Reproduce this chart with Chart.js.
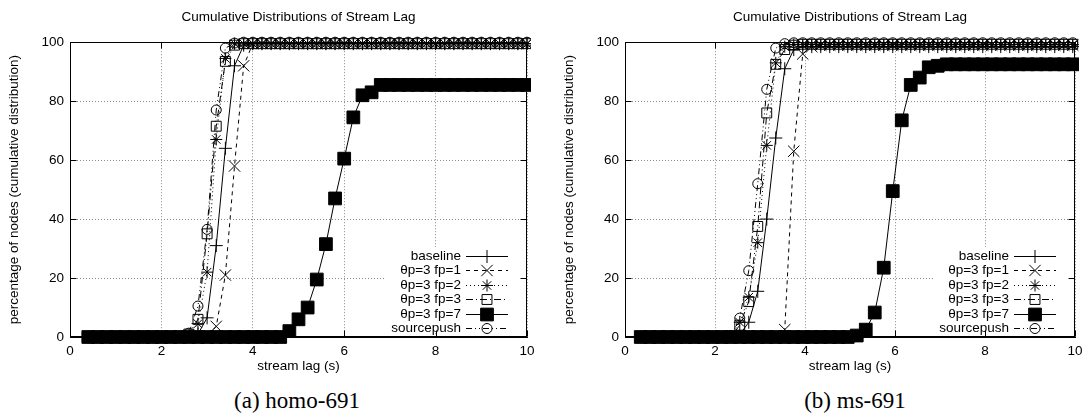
<!DOCTYPE html>
<html>
<head>
<meta charset="utf-8">
<script src="https://cdn.jsdelivr.net/npm/chart.js@4/dist/chart.umd.min.js"></script>
<style>
  body { margin: 0; background: #fff; }
  #wrap { position: relative; width: 1085px; height: 415px; overflow: hidden; }
  .panel { position: absolute; top: 0; height: 385px; }
  #leftPanel { left: 0; width: 545px; }
  #rightPanel { left: 555px; width: 530px; }
  .caption {
    position: absolute; top: 386px; width: 300px; line-height: 30px;
    font-family: 'Liberation Serif', 'Times New Roman', serif; font-size: 23px;
    color: #000; text-align: center;
  }
</style>
</head>
<body>
<div id="wrap">
  <div class="panel" id="leftPanel"><canvas id="homoChart"></canvas></div>
  <div class="panel" id="rightPanel"><canvas id="msChart"></canvas></div>
  <div class="caption" style="left:147px">(a) homo-691</div>
  <div class="caption" style="left:705px">(b) ms-691</div>
</div>
<script>
// ===== data =====
const seriesNames = ['baseline', 'θp=3 fp=1', 'θp=3 fp=2', 'θp=3 fp=3', 'θp=3 fp=7', 'sourcepush'];
const xTicks = [0, 2, 4, 6, 8, 10];
const yTicks = [0, 20, 40, 60, 80, 100];

// (a) homo-691
const lagHomo = [0.4,0.6,0.8,1.0,1.2,1.4,1.6,1.8,2.0,2.2,
  2.4,2.6,2.8,3.0,3.2,3.4,3.6,3.8,4.0,4.2,
  4.4,4.6,4.8,5.0,5.2,5.4,5.6,5.8,6.0,6.2,
  6.4,6.6,6.8,7.0,7.2,7.4,7.6,7.8,8.0,8.2,
  8.4,8.6,8.8,9.0,9.2,9.4,9.6,9.8,10.0];
const homoBaseline = [0,0,0,0,0,0,0,0,0,0,
  0,0,1,6.5,31,64,92,99,99.5,99.5,
  99.5,99.5,99.5,99.5,99.5,99.5,99.5,99.5,99.5,99.5,
  99.5,99.5,99.5,99.5,99.5,99.5,99.5,99.5,99.5,99.5,
  99.5,99.5,99.5,99.5,99.5,99.5,99.5,99.5,99.5];
const homoFp1 = [0,0,0,0,0,0,0,0,0,0,
  0,0,0,0.5,3.6,21,58,92,99.5,99.5,
  99.5,99.5,99.5,99.5,99.5,99.5,99.5,99.5,99.5,99.5,
  99.5,99.5,99.5,99.5,99.5,99.5,99.5,99.5,99.5,99.5,
  99.5,99.5,99.5,99.5,99.5,99.5,99.5,99.5,99.5];
const homoFp2 = [0,0,0,0,0,0,0,0,0,0,
  0,0.5,4.5,22,67,94.5,99.5,99.5,99.5,99.5,
  99.5,99.5,99.5,99.5,99.5,99.5,99.5,99.5,99.5,99.5,
  99.5,99.5,99.5,99.5,99.5,99.5,99.5,99.5,99.5,99.5,
  99.5,99.5,99.5,99.5,99.5,99.5,99.5,99.5,99.5];
const homoFp3 = [0,0,0,0,0,0,0,0,0,0,
  0,1,6,35,71.5,93.5,99,99.5,99.5,99.5,
  99.5,99.5,99.5,99.5,99.5,99.5,99.5,99.5,99.5,99.5,
  99.5,99.5,99.5,99.5,99.5,99.5,99.5,99.5,99.5,99.5,
  99.5,99.5,99.5,99.5,99.5,99.5,99.5,99.5,99.5];
const homoFp7 = [0,0,0,0,0,0,0,0,0,0,
  0,0,0,0,0,0,0,0,0,0,
  0,0,2,6,10,19.5,31.5,47,60.5,74.5,
  82,83,85.5,85.5,85.5,85.5,85.5,85.5,85.5,85.5,
  85.5,85.5,85.5,85.5,85.5,85.5,85.5,85.5,85.5];
const homoSource = [0,0,0,0,0,0,0,0,0,0,
  0,1.3,10.5,36.5,77,98,99.7,100,100,100,
  100,100,100,100,100,100,100,100,100,100,
  100,100,100,100,100,100,100,100,100,100,
  100,100,100,100,100,100,100,100,100];

// (b) ms-691
const lagMs = [0.35,0.55,0.75,0.95,1.15,1.35,1.55,1.75,1.95,2.15,
  2.35,2.55,2.75,2.95,3.15,3.35,3.55,3.75,3.95,4.15,
  4.35,4.55,4.75,4.95,5.15,5.35,5.55,5.75,5.95,6.15,
  6.35,6.55,6.75,6.95,7.15,7.35,7.55,7.75,7.95,8.15,
  8.35,8.55,8.75,8.95,9.15,9.35,9.55,9.75,9.95];
const msBaseline = [0,0,0,0,0,0,0,0,0,0,
  0,0.8,5,15.5,40,67.5,91,97.5,98.5,98.5,
  98.5,98.5,98.5,98.5,98.5,98.5,98.5,98.5,98.5,98.5,
  98.5,98.5,98.5,98.5,98.5,98.5,98.5,98.5,98.5,98.5,
  98.5,98.5,98.5,98.5,98.5,98.5,98.5,98.5,98.5];
const msFp1 = [0,0,0,0,0,0,0,0,0,0,
  0,0,0,0,0,0,2.5,63,96,98.5,
  99,99,99,99,99,99,99,99,99,99,
  99,99,99,99,99,99,99,99,99,99,
  99,99,99,99,99,99,99,99,99];
const msFp2 = [0,0,0,0,0,0,0,0,0,0,
  0,5,13.5,32,65,93,98.5,99.2,99.2,99.2,
  99.2,99.2,99.2,99.2,99.2,99.2,99.2,99.2,99.2,99.2,
  99.2,99.2,99.2,99.2,99.2,99.2,99.2,99.2,99.2,99.2,
  99.2,99.2,99.2,99.2,99.2,99.2,99.2,99.2,99.2];
const msFp3 = [0,0,0,0,0,0,0,0,0,0,
  0,4,12,37.5,76,92.5,97.5,99,99.3,99.3,
  99.3,99.3,99.3,99.3,99.3,99.3,99.3,99.3,99.3,99.3,
  99.3,99.3,99.3,99.3,99.3,99.3,99.3,99.3,99.3,99.3,
  99.3,99.3,99.3,99.3,99.3,99.3,99.3,99.3,99.3];
const msFp7 = [0,0,0,0,0,0,0,0,0,0,
  0,0,0,0,0,0,0,0,0,0,
  0,0,0,0,0.5,2.5,8.3,23.5,49.5,73.5,
  85.5,88,91.5,92,92.5,92.5,92.5,92.5,92.5,92.5,
  92.5,92.5,92.5,92.5,92.5,92.5,92.5,92.5,92.5];
const msSource = [0,0,0,0,0,0,0,0,0,0,
  0.5,6.4,22.5,52,84,98,99.5,99.8,99.8,99.8,
  99.8,99.8,99.8,99.8,99.8,99.8,99.8,99.8,99.8,99.8,
  99.8,99.8,99.8,99.8,99.8,99.8,99.8,99.8,99.8,99.8,
  99.8,99.8,99.8,99.8,99.8,99.8,99.8,99.8,99.8];

// ===== look (gnuplot style) =====
Chart.defaults.font.family = "'Liberation Sans', Arial, sans-serif";
Chart.defaults.font.size = 13.5;
Chart.defaults.color = '#000';

const lineDash = [[], [4, 4], [1, 3], [7, 3, 1, 3], [], [6, 3, 1, 3, 1, 3]];
const markers = ['cross', 'crossRot', 'star', 'rect', 'rect', 'circle'];
const markerSize = [6.5, 8, 6, 7, 9, 5];
const markerFill = ['rgba(0,0,0,0)', 'rgba(0,0,0,0)', 'rgba(0,0,0,0)', 'rgba(0,0,0,0)', '#000', 'rgba(0,0,0,0)'];

function drawMarker(ctx, style, x, y, r, fill) {
  ctx.beginPath();
  const d = r * Math.SQRT1_2;
  if (style === 'cross' || style === 'star') {
    ctx.moveTo(x - r, y); ctx.lineTo(x + r, y);
    ctx.moveTo(x, y - r); ctx.lineTo(x, y + r);
  }
  if (style === 'crossRot' || style === 'star') {
    ctx.moveTo(x - d, y - d); ctx.lineTo(x + d, y + d);
    ctx.moveTo(x - d, y + d); ctx.lineTo(x + d, y - d);
  }
  if (style === 'rect') ctx.rect(x - d, y - d, 2 * d, 2 * d);
  if (style === 'circle') ctx.arc(x, y, r, 0, Math.PI * 2);
  if (fill === '#000') { ctx.fillStyle = '#000'; ctx.fill(); }
  ctx.stroke();
}

// key box in the lower right corner, drawn over the grid
const gnuKey = {
  id: 'gnuKey',
  afterDraw(chart) {
    const { ctx, chartArea } = chart;
    const right = chartArea.right, bottom = chartArea.bottom;
    ctx.save();
    ctx.fillStyle = '#fff';
    ctx.fillRect(right - 142, bottom - 90, 140, 84);
    ctx.font = "13.5px 'Liberation Sans', Arial, sans-serif";
    ctx.textAlign = 'right';
    ctx.textBaseline = 'middle';
    ctx.strokeStyle = '#000';
    ctx.lineWidth = 1;
    chart.data.datasets.forEach((ds, i) => {
      const y = Math.round(bottom - 81 + i * 14.4) + 0.5;
      ctx.fillStyle = '#000';
      ctx.fillText(ds.label, right - 66, y);
      ctx.setLineDash(lineDash[i]);
      ctx.beginPath();
      ctx.moveTo(right - 61, y);
      ctx.lineTo(right - 19, y);
      ctx.stroke();
      ctx.setLineDash([]);
      drawMarker(ctx, markers[i], right - 40, y, markerSize[i], markerFill[i]);
    });
    ctx.restore();
  }
};

// full border and inward tick marks on all four sides
const gnuFrame = {
  id: 'gnuFrame',
  afterDraw(chart) {
    const { ctx, chartArea: a, scales } = chart;
    const L = Math.round(a.left) + 0.5, R = Math.round(a.right) - 0.5;
    const T = Math.round(a.top) + 0.5, B = Math.round(a.bottom) - 0.5;
    ctx.save();
    ctx.strokeStyle = '#000';
    ctx.lineWidth = 1;
    ctx.setLineDash([]);
    ctx.strokeRect(L, T, R - L, B - T);
    ctx.beginPath();
    xTicks.forEach(v => {
      const px = Math.round(scales.x.getPixelForValue(v)) + 0.5;
      ctx.moveTo(px, B); ctx.lineTo(px, B - 6);
      ctx.moveTo(px, T); ctx.lineTo(px, T + 6);
    });
    yTicks.forEach(v => {
      const py = Math.round(scales.y.getPixelForValue(v)) + 0.5;
      ctx.moveTo(L, py); ctx.lineTo(L + 6, py);
      ctx.moveTo(R, py); ctx.lineTo(R - 6, py);
    });
    ctx.stroke();
    ctx.restore();
  }
};

function makeChart(canvasId, lags, seriesValues, padRight) {
  const datasets = seriesValues.map((vals, i) => ({
    label: seriesNames[i],
    data: lags.map((x, j) => ({ x: x, y: vals[j] })),
    borderColor: '#000',
    borderWidth: 1,
    borderDash: lineDash[i],
    tension: 0,
    fill: false,
    clip: { left: 12, top: 12, right: 4, bottom: 12 },
    pointStyle: markers[i],
    pointRadius: markerSize[i],
    pointBorderColor: '#000',
    pointBorderWidth: 1,
    pointBackgroundColor: markerFill[i],
    order: seriesValues.length - i
  }));

  new Chart(document.getElementById(canvasId), {
    type: 'line',
    data: { datasets: datasets },
    plugins: [gnuKey, gnuFrame],
    options: {
      responsive: true,
      maintainAspectRatio: false,
      animation: false,
      events: [],
      layout: { padding: { left: 0, right: padRight, top: 0, bottom: 0 } },
      plugins: {
        legend: { display: false },
        tooltip: { enabled: false },
        title: {
          display: true,
          text: 'Cumulative Distributions of Stream Lag',
          fullSize: false,
          font: { size: 13.5, weight: 'normal' },
          color: '#000',
          padding: { top: 9, bottom: 17 }
        }
      },
      scales: {
        x: {
          type: 'linear',
          min: 0, max: 10,
          afterBuildTicks: s => { s.ticks = xTicks.map(v => ({ value: v })); },
          afterFit: s => { s.height = 48; s.paddingLeft = 0; s.paddingRight = 0; },
          ticks: { padding: 6, color: '#000', maxRotation: 0 },
          grid: { color: '#8a8a8a', lineWidth: 1, drawTicks: false },
          border: { display: true, color: '#000', dash: [1, 2] },
          title: { display: true, text: 'stream lag (s)', color: '#000', padding: { top: 0, bottom: 11 } }
        },
        y: {
          min: 0, max: 100,
          afterBuildTicks: s => { s.ticks = yTicks.map(v => ({ value: v })); },
          afterFit: s => { s.width = 70; },
          ticks: { padding: 6, color: '#000' },
          grid: { color: '#8a8a8a', lineWidth: 1, drawTicks: false },
          border: { display: true, color: '#000', dash: [1, 2] },
          title: { display: true, text: 'percentage of nodes (cumulative distribution)', color: '#000', padding: { top: 6, bottom: 0 } }
        }
      }
    }
  });
}

makeChart('homoChart', lagHomo, [homoBaseline, homoFp1, homoFp2, homoFp3, homoFp7, homoSource], 18);
makeChart('msChart', lagMs, [msBaseline, msFp1, msFp2, msFp3, msFp7, msSource], 5);
</script>
</body>
</html>
